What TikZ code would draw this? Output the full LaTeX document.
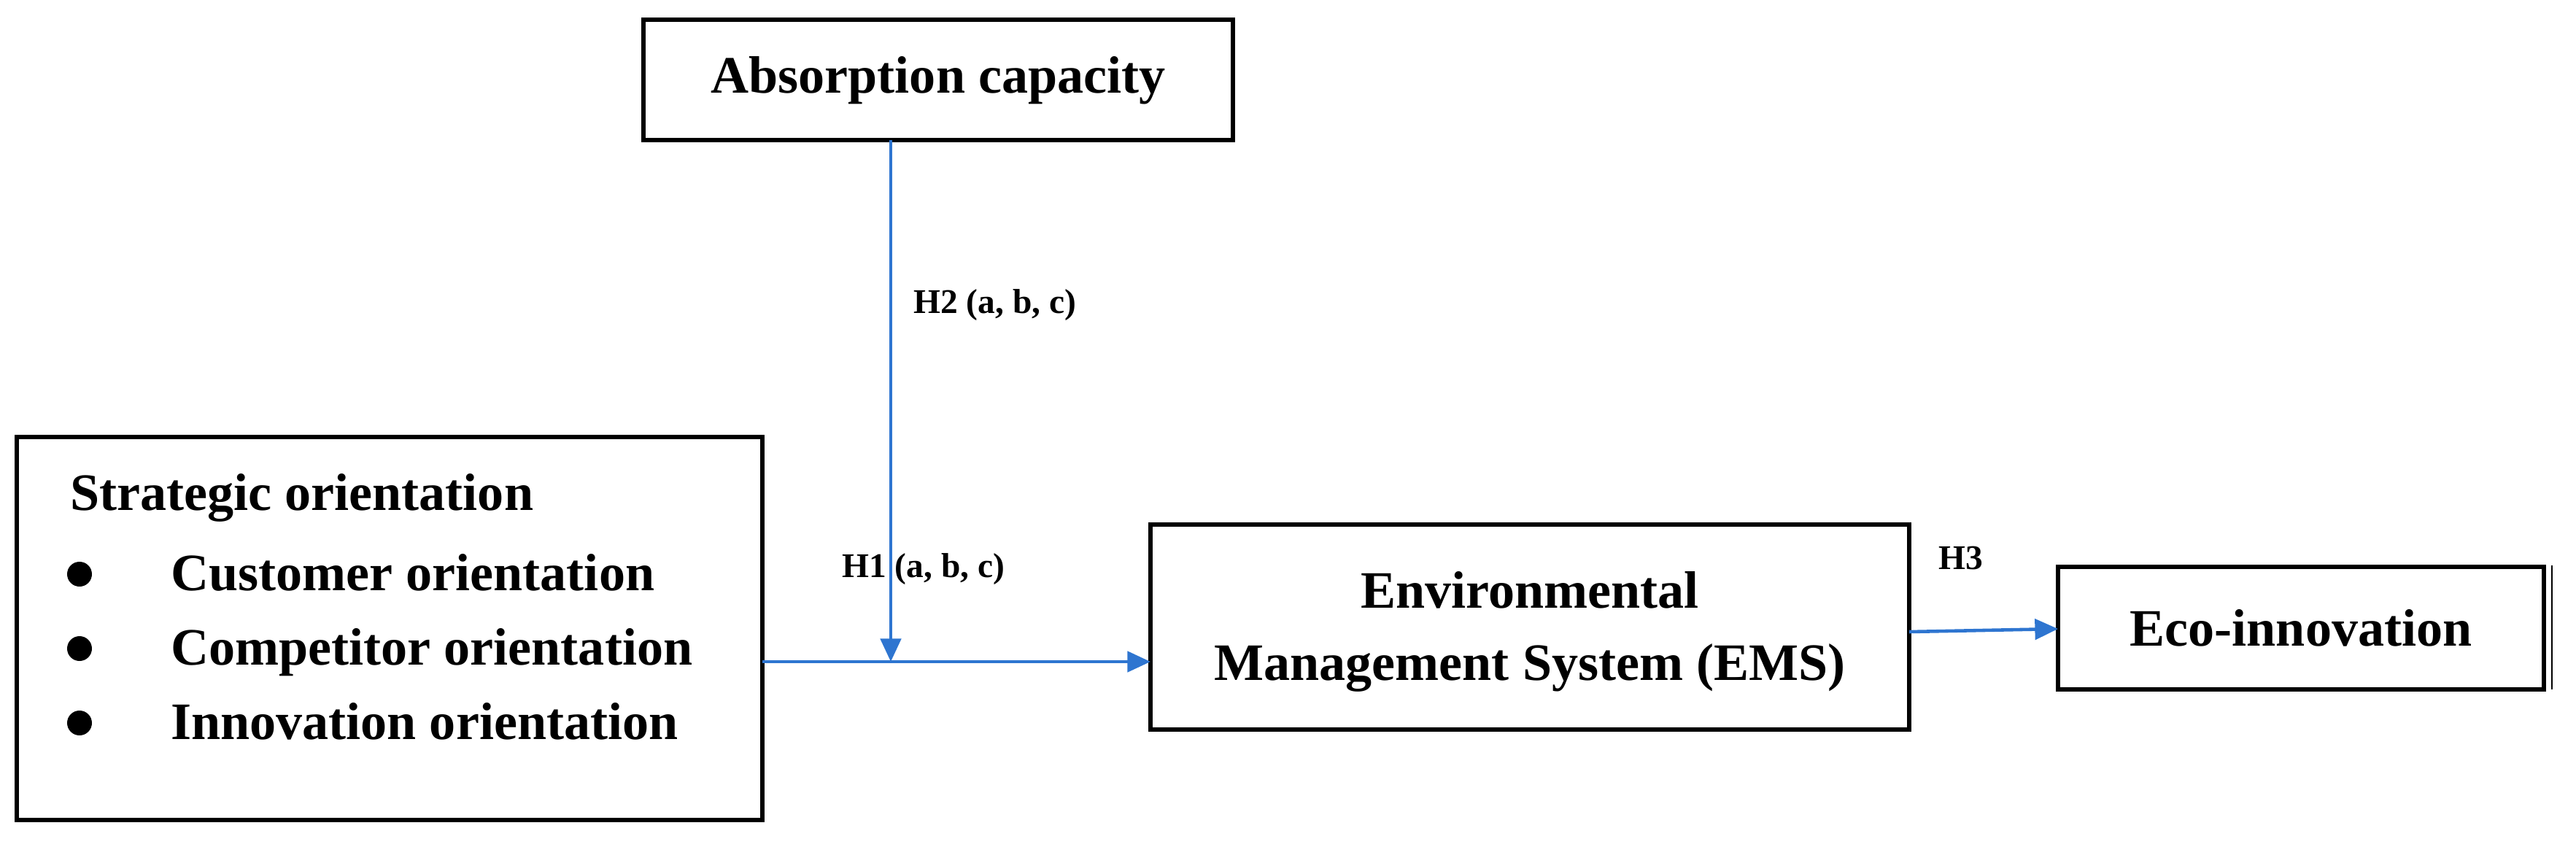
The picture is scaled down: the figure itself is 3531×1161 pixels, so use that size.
\documentclass[tikz,border=0pt]{standalone}
\usepackage{fontspec}
\setmainfont{Liberation Serif}
\usetikzlibrary{arrows.meta}
\definecolor{arr}{HTML}{2E75D0}
\tikzset{
 link/.style={draw=arr,line width=1.3pt,-{Triangle[length=9pt,width=8pt]}},
 big/.style={font=\fontsize{20.5}{28}\selectfont\bfseries},
 lab/.style={font=\fontsize{13.5}{16}\selectfont\bfseries,anchor=west}
}
\begin{document}
\begin{tikzpicture}[x=0.01cm,y=-0.01cm]
\useasboundingbox (0,0) rectangle (3531,1161);
\draw[line width=1.8pt] (882,27) rectangle (1690,192);
\node[big] (abst) at (1286,110) {Absorption capacity};
\draw[line width=1.8pt] (23,599) rectangle (1045,1124);
\coordinate (sor) at (1045,907);
\node[big,anchor=mid west] (so) at (84,691) {Strategic orientation};
\foreach \y/\t [count=\i] in {787/Customer orientation,889/Competitor orientation,991/Innovation orientation}{
  \fill (109,\y) circle (17);
  \node[big,anchor=mid west] (it\i) at (222,\y+14) {\t};
}
\draw[line width=1.8pt] (1577,719) rectangle (2617,1000);
\node[big,align=center] (ems) at (2097,866) {Environmental\\Management System (EMS)};
\coordinate (emsl) at (1577,907);
\coordinate (emsr) at (2617,866);
\draw[line width=1.8pt] (2821,777) rectangle (3487,945);
\node[big] (eco) at (3154,861) {Eco-innovation};
\coordinate (ecol) at (2821,862);
\draw[line width=0.8pt] (3498,775) -- (3498,945);
\coordinate (absb) at (1221,192);
\coordinate (join) at (1221,907);
\draw[link] (sor) -- (emsl);
\draw[link] (absb) -- (join);
\draw[link] (emsr) -- (ecol);
\node[lab] (h2) at (1240,418) {H2 (a, b, c)};
\node[lab] (h1) at (1142,780) {H1 (a, b, c)};
\node[lab] (h3) at (2645,765) {H3};
\end{tikzpicture}
\end{document}
